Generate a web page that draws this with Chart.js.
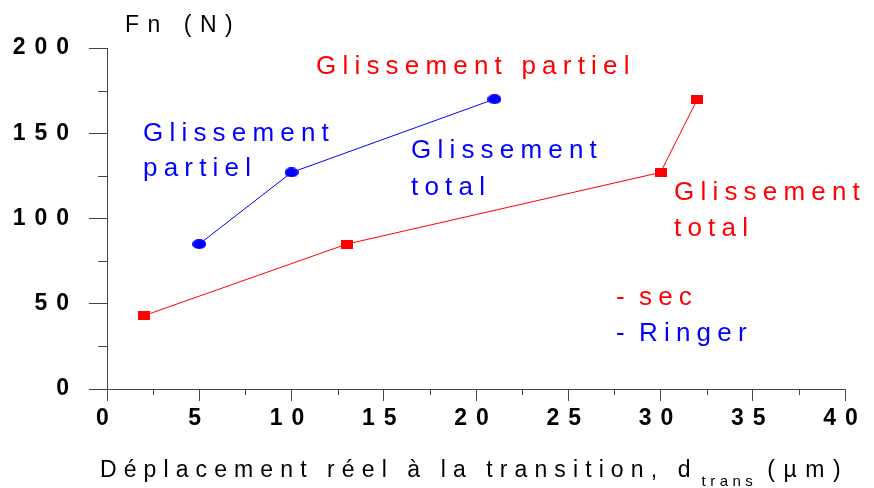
<!DOCTYPE html>
<html>
<head>
<meta charset="utf-8">
<script src="https://cdn.jsdelivr.net/npm/chart.js@4.4.1/dist/chart.umd.min.js"></script>
<style>
  html, body { margin: 0; padding: 0; background: #fff; }
  #wrap { width: 874px; height: 488px; }
</style>
</head>
<body>
<div id="wrap"><canvas id="c" width="874" height="488"></canvas></div>
<script>
// Transition displacement (µm) and normal load Fn (N), dry and Ringer's solution
const secDisp = [2, 13, 30, 32];
const secLoad = [43, 85, 127, 170];
const ringerDisp = [5, 10, 21];
const ringerLoad = [85, 127, 170];

const xTicks = [0, 5, 10, 15, 20, 25, 30, 35, 40];
const yTicks = [0, 50, 100, 150, 200];

const FONT = '"Liberation Sans", Arial, sans-serif';
const AXIS = '#444';

// Marker sprites: small red rectangles (dry) and blue ellipses (Ringer)
function sprite(w, h, color, ellipse) {
  const cv = document.createElement('canvas');
  cv.width = w; cv.height = h;
  const g = cv.getContext('2d');
  g.fillStyle = color;
  if (ellipse) {
    g.beginPath();
    g.ellipse(w / 2, h / 2, w / 2, h / 2, 0, 0, Math.PI * 2);
    g.fill();
  } else {
    g.fillRect(0, 0, w, h);
  }
  return cv;
}
const redMark = sprite(12, 9, '#ff0000', false);
const blueMark = sprite(14, 10, '#0000ff', true);

function spaced(ctx, text, x, y, font, color, spacing, align) {
  ctx.save();
  ctx.font = font;
  ctx.fillStyle = color;
  ctx.letterSpacing = spacing + 'px';
  ctx.textAlign = align || 'left';
  ctx.textBaseline = 'alphabetic';
  ctx.fillText(text, x, y);
  const w = ctx.measureText(text).width;
  ctx.restore();
  return w;
}

const notes = [
  { text: 'Glissement partiel', color: '#ff0000', x: 316, y: 74 },
  { text: 'Glissement', color: '#0000ff', x: 143, y: 141 },
  { text: 'partiel', color: '#0000ff', x: 143, y: 176 },
  { text: 'Glissement', color: '#0000ff', x: 411, y: 158 },
  { text: 'total', color: '#0000ff', x: 411, y: 195 },
  { text: 'Glissement', color: '#ff0000', x: 674, y: 200 },
  { text: 'total', color: '#ff0000', x: 674, y: 236 }
];

const decor = {
  id: 'decor',
  beforeDraw(chart) {
    // tick labels of both axes are drawn with wide letter spacing
    chart.ctx.letterSpacing = '9px';
  },
  afterDraw(chart) {
    const ctx = chart.ctx;
    ctx.letterSpacing = '0px';
    const xs = chart.scales.x, ys = chart.scales.y;

    // minor tick marks halfway between major ticks
    ctx.save();
    ctx.strokeStyle = AXIS;
    ctx.lineWidth = 1;
    ctx.beginPath();
    for (let i = 0; i < yTicks.length - 1; i++) {
      const py = Math.round(ys.getPixelForValue((yTicks[i] + yTicks[i + 1]) / 2)) + 0.5;
      ctx.moveTo(ys.right - 9, py);
      ctx.lineTo(ys.right, py);
    }
    for (let i = 0; i < xTicks.length - 1; i++) {
      const px = Math.round(xs.getPixelForValue((xTicks[i] + xTicks[i + 1]) / 2)) + 0.5;
      ctx.moveTo(px, xs.top);
      ctx.lineTo(px, xs.top + 6);
    }
    ctx.stroke();
    ctx.restore();

    // y axis title
    spaced(ctx, 'Fn (N)', 125, 32, '23px ' + FONT, '#000', 8.5);

    // x axis title with subscript
    let x = 100;
    x += spaced(ctx, 'Déplacement réel à la transition, d', x, 477, '23px ' + FONT, '#000', 7.1);
    x += 4;
    x += spaced(ctx, 'trans', x, 486, '15px ' + FONT, '#000', 4.5);
    x += 10;
    spaced(ctx, '(µm)', x, 477, '23px ' + FONT, '#000', 8.5);

    // regime annotations
    for (const n of notes) {
      spaced(ctx, n.text, n.x, n.y, '26px ' + FONT, n.color, 6.2);
    }

    // legend
    spaced(ctx, '-', 616, 305, '26px ' + FONT, '#ff0000', 6.2);
    spaced(ctx, 'sec', 639, 305, '26px ' + FONT, '#ff0000', 6.2);
    spaced(ctx, '-', 616, 341, '26px ' + FONT, '#0000ff', 6.2);
    spaced(ctx, 'Ringer', 639, 341, '26px ' + FONT, '#0000ff', 6.2);
  }
};

new Chart(document.getElementById('c'), {
  type: 'scatter',
  data: {
    datasets: [
      {
        label: 'sec',
        data: secDisp.map((d, i) => ({ x: d, y: secLoad[i] })),
        showLine: true,
        borderColor: '#ff0000',
        borderWidth: 1,
        pointStyle: redMark,
        backgroundColor: '#ff0000'
      },
      {
        label: 'Ringer',
        data: ringerDisp.map((d, i) => ({ x: d, y: ringerLoad[i] })),
        showLine: true,
        borderColor: '#0000ff',
        borderWidth: 1,
        pointStyle: blueMark,
        backgroundColor: '#0000ff'
      }
    ]
  },
  options: {
    responsive: false,
    animation: false,
    devicePixelRatio: 1,
    layout: { padding: { top: 48, right: 29, bottom: 0, left: 0 } },
    plugins: { legend: { display: false }, tooltip: { enabled: false } },
    scales: {
      x: {
        type: 'linear',
        min: 0, max: 40,
        afterBuildTicks(s) { s.ticks = xTicks.map(v => ({ value: v })); },
        afterFit(s) { s.height = 99; },
        ticks: {
          padding: 4,
          color: '#000',
          font: { family: FONT, size: 23, weight: 'bold' }
        },
        grid: { drawOnChartArea: false, drawTicks: true, tickLength: 12, color: AXIS, tickColor: AXIS },
        border: { display: true, color: AXIS, width: 1 }
      },
      y: {
        min: 0, max: 200,
        afterBuildTicks(s) { s.ticks = yTicks.map(v => ({ value: v })); },
        afterFit(s) { s.width = 107; },
        ticks: {
          padding: 11,
          color: '#000',
          font: { family: FONT, size: 23, weight: 'bold' }
        },
        grid: { drawOnChartArea: false, drawTicks: true, tickLength: 18, color: AXIS, tickColor: AXIS },
        border: { display: true, color: AXIS, width: 1 }
      }
    }
  },
  plugins: [decor]
});
</script>
</body>
</html>
